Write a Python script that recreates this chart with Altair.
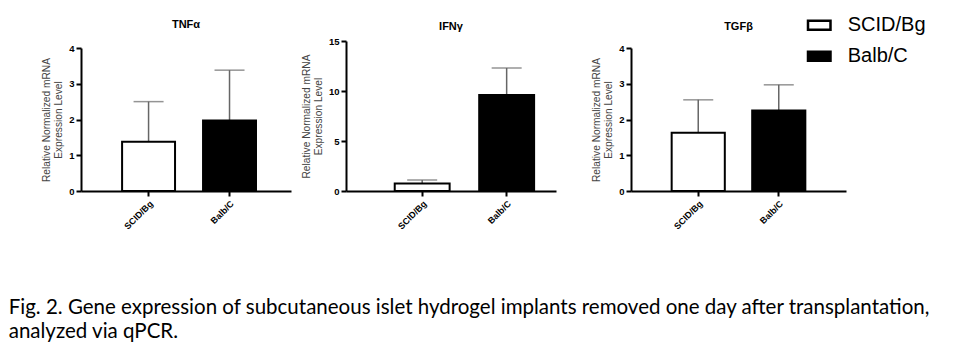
import altair as alt
import pandas as pd

groups = ["SCID/Bg", "Balb/C"]
fill_colors = ["white", "black"]

tnf_mean = [1.38, 1.97]
tnf_err = [1.12, 1.41]
ifn_mean = [0.75, 9.6]
ifn_err = [0.35, 2.7]
tgf_mean = [1.63, 2.25]
tgf_err = [0.92, 0.72]

panel_titles = ["TNFα", "IFNγ", "TGFβ"]
y_max = [4, 15, 4]
y_ticks = [[0, 1, 2, 3, 4], [0, 5, 10, 15], [0, 1, 2, 3, 4]]
y_title = ["Relative Normalized mRNA", "Expression Level"]
caption = [
    "Fig. 2. Gene expression of subcutaneous islet hydrogel implants removed one day after transplantation,",
    "analyzed via qPCR.",
]

FONT = "Liberation Sans"
PLOT_H = 150


def panel(title, means, errs, ymax, ticks, width, top_gap, title_offset, title_dy,
          pad_inner, pad_outer, band_align, legend):
    df = pd.DataFrame({"group": groups, "mean": means, "err": errs})
    df["top"] = df["mean"] + df["err"]
    x = alt.X("group:N", sort=groups,
              scale=alt.Scale(paddingInner=pad_inner, paddingOuter=pad_outer, align=band_align),
              axis=alt.Axis(title=None, labelAngle=-45, labelFontSize=9, labelPadding=3))
    yaxis = alt.Axis(values=ticks, title=y_title, labelFontSize=9.5, titleFontSize=10.2,
                     titleFontWeight="normal", titleColor="#444444", titlePadding=5,
                     titleLineHeight=12)
    yscale = alt.Scale(domain=[0, ymax], nice=False, range=[PLOT_H, top_gap])
    base = alt.Chart(df)
    rule = base.mark_rule(color="#666666", strokeWidth=1.5).encode(
        x=x, y=alt.Y("mean:Q", scale=yscale, axis=yaxis), y2="top:Q")
    cap = base.mark_tick(color="#666666", thickness=1.5, size=30).encode(
        x=x, y=alt.Y("top:Q", scale=yscale, axis=yaxis))
    fill = alt.Fill("group:N", sort=groups,
                    scale=alt.Scale(domain=groups, range=fill_colors),
                    legend=legend)
    bars = base.mark_bar(stroke="black", strokeWidth=2).encode(
        x=x, y=alt.Y("mean:Q", scale=yscale, axis=yaxis), fill=fill)
    return alt.layer(rule, cap, bars).properties(
        width=width, height=PLOT_H,
        title=alt.TitleParams(title, offset=title_offset, dy=title_dy, fontSize=11,
                              font=FONT, fontWeight="bold", anchor="middle"))


legend = alt.Legend(orient="none", legendX=175.75, legendY=-28.25, title=None, padding=0,
                    symbolType="M-1,-0.41H1V0.41H-1Z", symbolSize=506,
                    symbolStrokeColor="black", symbolStrokeWidth=2.5,
                    labelFont=FONT, labelFontSize=20, labelOffset=16, rowPadding=8,
                    labelColor="black")

p1 = panel(panel_titles[0], tnf_mean, tnf_err, y_max[0], y_ticks[0], 210, 7, 11.5, 0,
           0.346, 0.47, 0.54, None)
p2 = panel(panel_titles[1], ifn_mean, ifn_err, y_max[1], y_ticks[1], 210, 0, 4.5, 0,
           0.35, 0.418, 0.69, None)
p3 = panel(panel_titles[2], tgf_mean, tgf_err, y_max[2], y_ticks[2], 215, 7, 11.5, 31,
           0.34, 0.505, 0.5, legend)

chart = alt.hconcat(
    alt.hconcat(p1, p2, spacing=10),
    p3,
    spacing=35,
    title=alt.TitleParams(caption, orient="bottom", anchor="start", font="Lato",
                          fontSize=20.5, fontWeight="normal", color="black",
                          lineHeight=24, offset=67, dx=-33),
).resolve_scale(fill="independent").resolve_legend(fill="independent").properties(
    padding={"left": 8, "top": 12, "right": 5, "bottom": 5}
).configure_axis(
    domainColor="black", domainWidth=2, tickColor="black", tickWidth=2, tickSize=5,
    labelFont=FONT, labelFontWeight="bold", labelColor="black", titleFont=FONT, grid=False,
).configure_view(stroke=None)

chart.save("out.html", embed_options={"renderer": "svg", "actions": False})
